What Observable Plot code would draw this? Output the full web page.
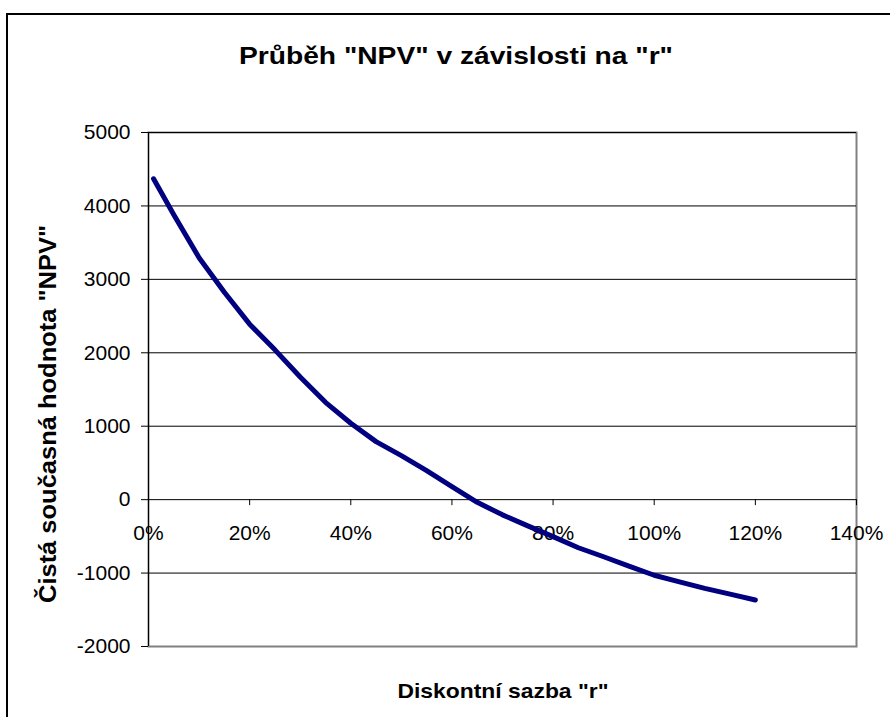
<!DOCTYPE html>
<html><head><meta charset="utf-8">
<script src="https://cdn.jsdelivr.net/npm/d3@7"></script>
<script src="https://cdn.jsdelivr.net/npm/@observablehq/plot@0.6"></script>
<style>
html,body{margin:0;padding:0;background:#fff;overflow:hidden}
#wrap{position:relative;width:890px;height:717px;}
#frame{position:absolute;left:6px;top:13px;width:1000px;height:1000px;border:2px solid #000;pointer-events:none}
#wrap svg{position:absolute;left:0;top:0}
</style></head><body><div id="wrap"></div>
<script>
const title = 'Průběh "NPV" v závislosti na "r"';
const xLabel = 'Diskontní sazba "r"';
const yLabel = 'Čistá současná hodnota "NPV"';

const rates = [1, 5, 10, 15, 20, 25, 30, 35, 40, 45, 50, 55, 60, 65, 70, 75, 80, 85, 90, 95, 100, 105, 110, 115, 120];
const npv = [4370, 3880, 3295, 2825, 2390, 2040, 1670, 1325, 1040, 790, 600, 395, 178, -37, -207, -357, -504, -655, -778, -905, -1030, -1119, -1208, -1287, -1366];

const xTicks = [0, 20, 40, 60, 80, 100, 120, 140];
const xTickLabels = ["0%", "20%", "40%", "60%", "80%", "100%", "120%", "140%"];
const yTicks = [-2000, -1000, 0, 1000, 2000, 3000, 4000, 5000];
const yTickLabels = ["-2000", "-1000", "0", "1000", "2000", "3000", "4000", "5000"];

const data = rates.map((r, i) => ({r, v: npv[i]}));

const chart = Plot.plot({
  width: 890, height: 717,
  marginLeft: 148, marginRight: 34, marginTop: 132, marginBottom: 71,
  style: {fontFamily: "'Liberation Sans', Arial, sans-serif", fontSize: "21px", color: "#000", background: "transparent", overflow: "visible"},
  x: {domain: [0, 140], axis: null},
  y: {domain: [-2000, 5000], axis: null},
  marks: [
    Plot.frame({stroke: "#808080", strokeWidth: 2}),
    Plot.ruleY(yTicks.filter(d => d > -2000), {stroke: "#000", strokeWidth: 1}),
    Plot.axisY(yTicks, {tickSize: 7, tickPadding: 11, tickFormat: d => yTickLabels[yTicks.indexOf(d)], label: null, fontSize: 21}),
    Plot.ruleX([0], {stroke: "#000"}),
    Plot.ruleX(xTicks, {x: d => d, y1: 0, y2: 0, insetBottom: -6, stroke: "#000"}),
    Plot.text(xTicks, {x: d => d, y: 0, text: (d, i) => xTickLabels[i], dy: 25, lineAnchor: "top", fontSize: 21}),
    Plot.line(data, {x: "r", y: "v", stroke: "#000080", strokeWidth: 5, strokeLinejoin: "round", strokeLinecap: "round"})
  ]
});

const wrap = document.getElementById("wrap");
wrap.appendChild(chart);
const frame = document.createElement("div");
frame.id = "frame";
wrap.appendChild(frame);

const svg = d3.select(chart);
function addText(str, {x, y, size, len, rotate = 0}) {
  svg.append("text")
    .attr("transform", `translate(${x},${y}) rotate(${rotate})`)
    .attr("text-anchor", "middle")
    .attr("font-weight", "bold")
    .attr("font-size", size)
    .attr("fill", "#000")
    .attr("textLength", len)
    .attr("lengthAdjust", "spacingAndGlyphs")
    .text(str);
}
addText(title, {x: 456, y: 64, size: 23, len: 434});
addText(xLabel, {x: 503, y: 698, size: 21, len: 211});
addText(yLabel, {x: 56, y: 414, size: 24, len: 378, rotate: -90});
</script>
</body></html>
